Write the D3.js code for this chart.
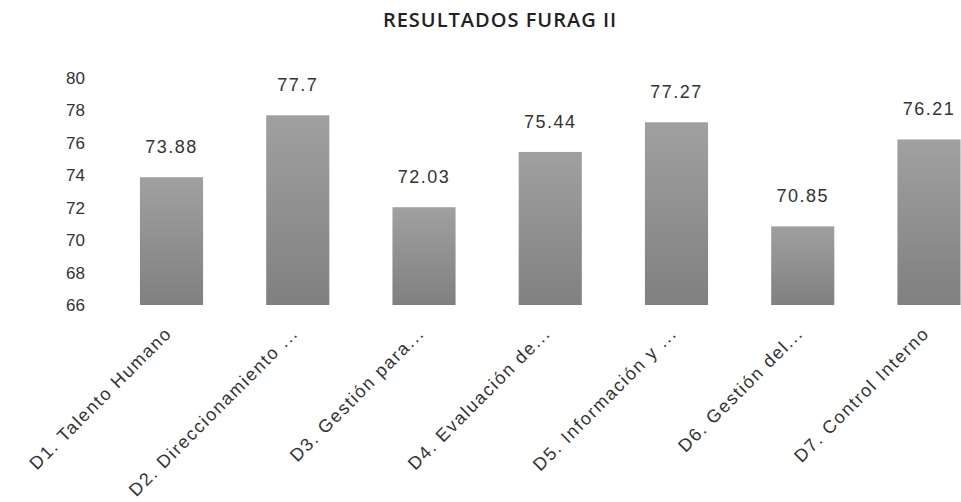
<!DOCTYPE html>
<html>
<head>
<meta charset="utf-8">
<script src="https://cdn.jsdelivr.net/npm/d3@7"></script>
<style>
  body { margin: 0; background: #fff; }
  svg { display: block; }
</style>
</head>
<body>
<div id="chart"></div>
<script>
// datos del gráfico
const categorias = [
    "D1. Talento Humano",
    "D2. Direccionamiento ...",
    "D3. Gestión para...",
    "D4. Evaluación de...",
    "D5. Información y ...",
    "D6. Gestión del...",
    "D7. Control Interno"
];
const valores = [73.88, 77.7, 72.03, 75.44, 77.27, 70.85, 76.21];
const etiquetasValor = ["73.88", "77.7", "72.03", "75.44", "77.27", "70.85", "76.21"];
const ticksY = [66, 68, 70, 72, 74, 76, 78, 80];

const width = 961, height = 502;

const svg = d3.select("#chart")
    .append("svg")
    .attr("width", width)
    .attr("height", height);

const defs = svg.append("defs");
const grad = defs.append("linearGradient")
    .attr("id", "barra")
    .attr("x1", 0).attr("y1", 0).attr("x2", 0).attr("y2", 1);
grad.append("stop").attr("offset", "0%").attr("stop-color", "#a0a0a0");
grad.append("stop").attr("offset", "100%").attr("stop-color", "#808080");

const x = d3.scaleBand()
    .domain(categorias)
    .range([108.4, 992.1])
    .paddingInner(0.5)
    .paddingOuter(0.25);

const y = d3.scaleLinear()
    .domain([66, 80])
    .range([305, 78]);

// título
svg.append("text")
    .attr("x", 500)
    .attr("y", 27)
    .attr("text-anchor", "middle")
    .attr("font-family", "Open Sans, sans-serif")
    .attr("font-size", 20)
    .attr("font-weight", 600)
    .attr("letter-spacing", 1)
    .attr("fill", "#222")
    .text("RESULTADOS FURAG II");

// eje Y sin línea
const ejeY = svg.append("g")
    .attr("transform", "translate(90,0)")
    .call(d3.axisLeft(y).tickValues(ticksY).tickSize(0).tickPadding(5));
ejeY.select(".domain").remove();
ejeY.selectAll("text")
    .attr("font-family", "Liberation Sans, Arial, sans-serif")
    .attr("font-size", 17)
    .attr("fill", "#333");

// barras
svg.selectAll(".bar")
    .data(valores)
    .enter().append("rect")
    .attr("class", "bar")
    .attr("x", (d, i) => x(categorias[i]))
    .attr("y", d => y(d))
    .attr("width", x.bandwidth())
    .attr("height", d => y(66) - y(d))
    .attr("fill", "url(#barra)");

// etiquetas de valor
svg.selectAll(".valor")
    .data(valores)
    .enter().append("text")
    .attr("class", "valor")
    .attr("x", (d, i) => x(categorias[i]) + x.bandwidth() / 2)
    .attr("y", d => y(d) - 24)
    .attr("text-anchor", "middle")
    .attr("font-family", "Liberation Sans, Arial, sans-serif")
    .attr("font-size", 18)
    .attr("letter-spacing", 1.5)
    .attr("fill", "#333")
    .text((d, i) => etiquetasValor[i]);

// etiquetas del eje X giradas
const ejeX = svg.append("g")
    .attr("transform", "translate(0,305)")
    .call(d3.axisBottom(x).tickSize(0).tickPadding(0));
ejeX.select(".domain").remove();
ejeX.selectAll("text")
    .attr("font-family", "Liberation Sans, Arial, sans-serif")
    .attr("font-size", 18)
    .attr("letter-spacing", 1.6)
    .attr("fill", "#333")
    .attr("text-anchor", "end")
    .attr("dy", "0.35em")
    .attr("transform", "translate(-3,25) rotate(-45)");
</script>
</body>
</html>
